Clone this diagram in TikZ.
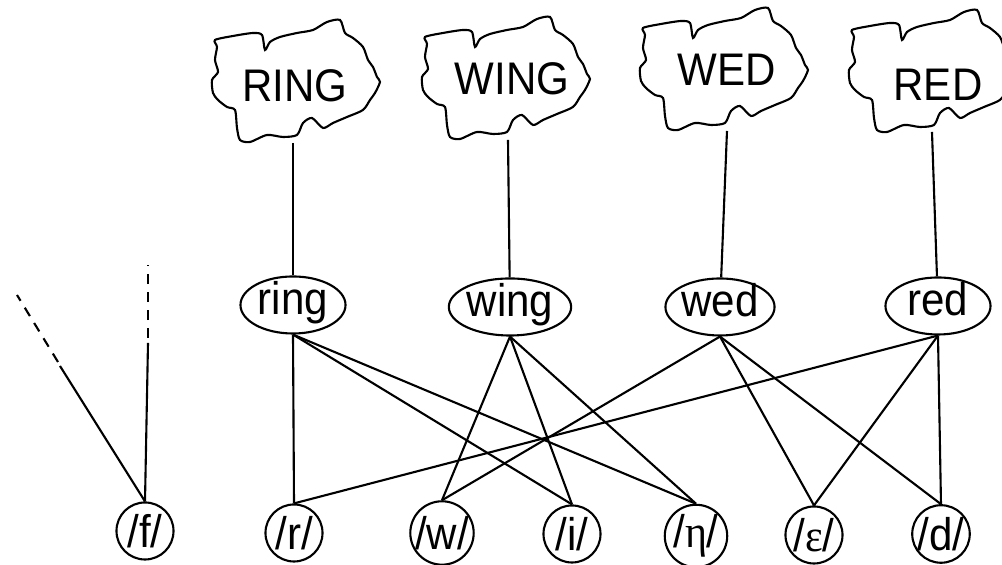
\documentclass[tikz,border=0pt]{standalone}
\usepackage{fontspec}
\setmainfont[FakeStretch=0.92]{Liberation Sans}
\newfontfamily\greekfont[FakeStretch=0.92]{Liberation Serif}
\usetikzlibrary{shapes.geometric, positioning}
\tikzset{
  word/.style={draw, ellipse, minimum width=1.05cm, minimum height=0.57cm, inner sep=0pt,
    text height=8pt, text depth=2.4pt},
  phon/.style={draw, circle, minimum size=0.57cm, inner sep=0pt},
  concept/.style={inner sep=0pt},
  trail/.style={dash pattern=on 2.8pt off 2.3pt},
  blob/.pic={
    \draw plot[smooth cycle, tension=0.45] coordinates {
      (-81,-40) (-63,-44) (-43,-47) (-34,-45) (-31,-30) (-26,-38) (-16,-43)
      (1,-47) (17,-50) (31,-58) (44,-60) (49,-47) (57,-42) (67,-33) (72,-20)
      (77,-13) (81,-3) (84,2) (79,13) (74,20) (67,30) (51,37) (37,43) (27,48)
      (16,38) (7,43) (1,55) (-13,57) (-29,55) (-46,62) (-56,60) (-59,48)
      (-61,30) (-69,27) (-78,20) (-83,13) (-84,0) (-78,-8) (-81,-20) (-79,-33)};
  }
}

\begin{document}
\begin{tikzpicture}[x=0.01cm, y=-0.01cm, line width=0.6pt, every node/.style={font=\fontsize{13}{16}\selectfont}]
\useasboundingbox (0,0) rectangle (1002,565);

% concepts
\pic at (296,80) {blob};
\pic at (506,77) {blob};
\pic at (724,68) {blob};
\pic at (933,70) {blob};
\node[concept] (RING) at (295,86) {RING};
\node[concept] (WING) at (512,79) {WING};
\node[concept] (WED) at (727,70) {WED};
\node[concept] (RED) at (938,85) {RED};
\coordinate (RINGfoot) at (293,143);
\coordinate (WINGfoot) at (508,140);
\coordinate (WEDfoot) at (727,131);
\coordinate (REDfoot) at (932,132);

% words
\node[word] (ring) at (293,305) {ring};
\node[word] (wing) at (510,307) {wing};
\node[word] (wed) at (720,307) {wed};
\node[word] (red) at (938,306) {red};

% phonemes
\node[phon] (f) at (145,531) {/f/};
\node[phon] (r) at (294,533) {/r/};
\node[phon] (w) at (442,533) {/w/};
\node[phon] (i) at (572,534) {/i/};
\node[phon] (eta) at (696,536) {/{\greekfont η}/};
\node[phon] (eps) at (814,535) {/{\greekfont ε}/};
\node[phon] (d) at (941,534) {/d/};

\draw (RINGfoot) -- (ring);
\draw (WINGfoot) -- (wing);
\draw (WEDfoot) -- (wed);
\draw (REDfoot) -- (red);

\draw (ring.south) -- (r.north);
\draw (ring.south) -- (i.north);
\draw (ring.south) -- (eta.north);
\draw (wing.south) -- (w.north);
\draw (wing.south) -- (i.north);
\draw (wing.south) -- (eta.north);
\draw (wed.south) -- (w.north);
\draw (wed.south) -- (eps.north);
\draw (wed.south) -- (d.north);
\draw (red.south) -- (r.north);
\draw (red.south) -- (eps.north);
\draw (red.south) -- (d.north);

% links leading off from /f/
\coordinate (fup) at (148,343);
\coordinate (fupend) at (148,265);
\coordinate (fleft) at (60,366);
\coordinate (fleftend) at (17,295);
\draw (f.north) -- (fup);
\draw (f.north) -- (fleft);
\draw[trail] (fup) ++(0,-5) -- (fupend);
\draw[trail] (fleft) ++(-2,-4) -- (fleftend);
\end{tikzpicture}
\end{document}
